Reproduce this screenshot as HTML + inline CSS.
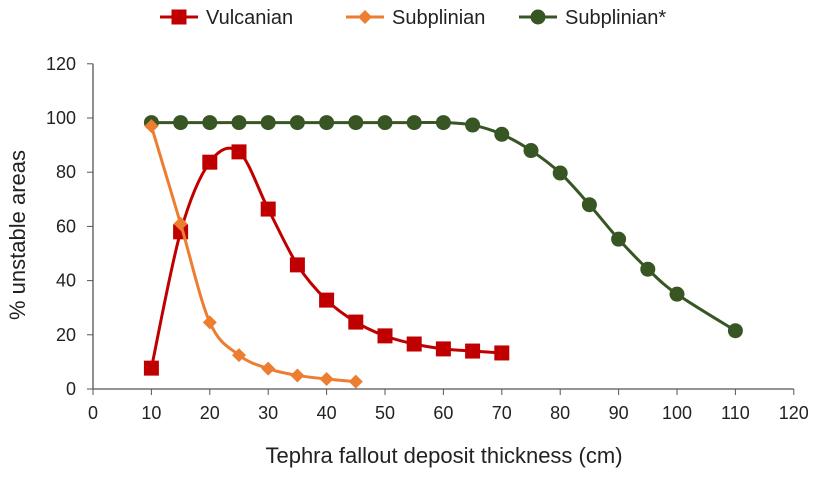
<!DOCTYPE html>
<html><head><meta charset="utf-8"><style>
body{margin:0;background:#fff;font-family:"Liberation Sans",Arial,sans-serif}
svg text{font-family:"Liberation Sans",Arial,sans-serif;fill:#222}
</style></head><body>
<svg id="c" width="815" height="475"></svg>
<script>
const xTicks=[0,10,20,30,40,50,60,70,80,90,100,110,120];
const yTicks=[0,20,40,60,80,100,120];
const vulcX=[10,15,20,25,30,35,40,45,50,55,60,65,70];
const vulcY=[7.7,58,83.7,87.5,66.4,45.8,32.8,24.7,19.6,16.6,14.8,14,13.3];
const subX=[10,15,20,25,30,35,40,45];
const subY=[97,61,24.6,12.5,7.5,5,3.7,2.7];
const subStarX=[10,15,20,25,30,35,40,45,50,55,60,65,70,75,80,85,90,95,100,110];
const subStarY=[98.3,98.3,98.3,98.3,98.3,98.3,98.3,98.3,98.3,98.3,98.3,97.4,94,88,79.7,68,55.3,44.2,35,21.5];
const NS='http://www.w3.org/2000/svg';
const svg=document.getElementById('c');
const X=v=>93+v*5.84, Y=v=>389-v*2.71;
function mk(t,a,p){const e=document.createElementNS(NS,t);for(const k in a)e.setAttribute(k,a[k]);(p||svg).appendChild(e);return e;}
const ax=mk('g',{});


mk('line',{x1:X(0),y1:Y(0),x2:X(120),y2:Y(0),stroke:'#555','stroke-width':1.3},ax);
mk('line',{x1:X(0),y1:Y(0),x2:X(0),y2:Y(120),stroke:'#555','stroke-width':1.3},ax);
xTicks.forEach(t=>{mk('line',{x1:X(t),y1:389,x2:X(t),y2:395,stroke:'#555'},ax);
const tx=mk('text',{x:X(t),y:419,'text-anchor':'middle','font-size':18},ax);tx.textContent=t;

});
yTicks.forEach(t=>{mk('line',{x1:87,y1:Y(t),x2:93,y2:Y(t),stroke:'#555'},ax);
const tx=mk('text',{x:76,y:Y(t)+6,'text-anchor':'end','font-size':18},ax);tx.textContent=t;

});
const xt=mk('text',{x:444,y:463,'text-anchor':'middle','font-size':22});xt.textContent='Tephra fallout deposit thickness (cm)';


const yt=mk('text',{x:0,y:0,'text-anchor':'middle','font-size':22,transform:'translate(25,235) rotate(-90)'});yt.textContent='% unstable areas';


function path(xs,ys){const p=xs.map((x,i)=>[X(x),Y(ys[i])]);let d='M'+p[0];
for(let i=0;i<p.length-1;i++){const p0=p[i-1]||p[i],p1=p[i],p2=p[i+1],p3=p[i+2]||p2;
const c1=[p1[0]+(p2[0]-p0[0])/6,p1[1]+(p2[1]-p0[1])/6],c2=[p2[0]-(p3[0]-p1[0])/6,p2[1]-(p3[1]-p1[1])/6];
d+=' C'+c1+' '+c2+' '+p2;}return d;}
function marker(g,type,cx,cy,col){
if(type==='sq')return mk('rect',{x:cx-7.5,y:cy-7.5,width:15,height:15,fill:col},g);
if(type==='di')return mk('path',{d:`M${cx},${cy-7}L${cx+7},${cy}L${cx},${cy+7}L${cx-7},${cy}Z`,fill:col},g);
return mk('circle',{cx,cy,r:7.5,fill:col},g);}
function series(name,xs,ys,col,type){const g=mk('g',{});


mk('path',{d:path(xs,ys),fill:'none',stroke:col,'stroke-width':3},g);
xs.forEach((x,i)=>{const m=marker(g,type,X(x),Y(ys[i]),col);

});}
series('subplinian-star',subStarX,subStarY,'#375623','ci');
series('vulcanian',vulcX,vulcY,'#c00000','sq');
series('subplinian',subX,subY,'#ed7d31','di');
const leg=[['Vulcanian','#c00000','sq',160],['Subplinian','#ed7d31','di',346],['Subplinian*','#375623','ci',519]];
leg.forEach(([n,c,t,x])=>{const g=mk('g',{});


mk('line',{x1:x,y1:17,x2:x+38,y2:17,stroke:c,'stroke-width':3},g);marker(g,t,x+19,17,c);
const tx=mk('text',{x:x+46,y:24,'font-size':20},g);tx.textContent=n;});
</script>
</body></html>
